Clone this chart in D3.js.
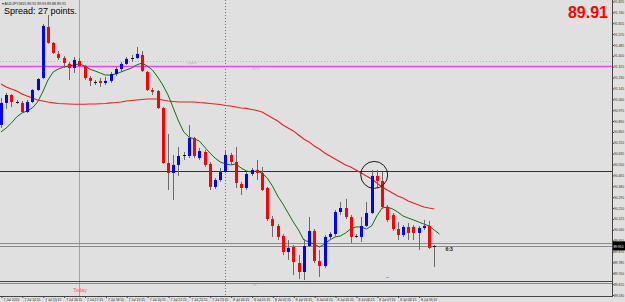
<!DOCTYPE html>
<html>
<head>
<meta charset="utf-8">
<script src="https://cdn.jsdelivr.net/npm/d3@7"></script>
<style>
  html, body { margin: 0; padding: 0; background: #e0e0e0; }
  svg { display: block; font-family: "Liberation Sans", Arial, sans-serif; }
</style>
</head>
<body>
<svg id="chart" width="625" height="302"></svg>
<script>
// AUDJPY M15
const symbol = 'AUDJPY,M15';
const headerQuote = [89.92, 89.93, 89.88, 89.91];
const spreadPoints = 27;
const bid = 89.910;
const ask = 89.937;
const openLevel = 91.360;
const pivotLevel = 91.321;
const supportLevel = 90.500;
const todayIndex = 15;
const daySeparatorIndex = 43;
const circled = {index: 71.5, price: 90.469};
const countdown = '6:3';

const timeLabels = ['7 Jul 2015', '7 Jul 14:15', '7 Jul 15:15', '7 Jul 16:15', '7 Jul 17:15', '7 Jul 18:15',
  '7 Jul 19:15', '7 Jul 20:15', '7 Jul 21:15', '7 Jul 22:15', '7 Jul 23:15', '8 Jul 00:15', '8 Jul 01:15',
  '8 Jul 02:15', '8 Jul 03:15', '8 Jul 04:15', '8 Jul 05:15', '8 Jul 06:15', '8 Jul 07:15', '8 Jul 08:15',
  '8 Jul 09:15'];

const priceTicks = [89.530, 89.615, 89.700, 89.785, 89.870, 89.955, 90.040, 90.125, 90.210, 90.295,
  90.380, 90.465, 90.550, 90.635, 90.720, 90.805, 90.890, 90.975, 91.060, 91.145,
  91.230, 91.315, 91.400, 91.485, 91.570, 91.655, 91.740, 91.825];

const opens = [
  90.860, 91.032, 91.094, 91.039, 91.032, 90.961, 91.039, 91.133, 91.227, 91.626,
  91.501, 91.415, 91.383, 91.337, 91.305, 91.360, 91.321, 91.227, 91.198, 91.204,
  91.188, 91.204, 91.258, 91.297, 91.337, 91.376, 91.383, 91.407, 91.274, 91.133,
  91.125, 90.992, 90.562, 90.484, 90.547, 90.622, 90.617, 90.758, 90.601, 90.648,
  90.555, 90.375, 90.429, 90.492, 90.625, 90.570, 90.398, 90.367, 90.476, 90.508,
  90.484, 90.367, 90.124, 90.070, 89.991, 89.866, 89.905, 89.780, 89.710, 89.913,
  90.031, 89.796, 89.757, 89.984, 90.007, 90.179, 90.210, 90.140, 89.993, 89.984,
  90.070, 90.171, 90.461, 90.422, 90.218, 90.156, 90.046, 89.999, 90.062, 90.062,
  90.015, 90.054, 90.070, 89.905];

const highs = [
  91.071, 91.110, 91.100, 91.055, 91.047, 91.055, 91.140, 91.226, 91.649, 91.720,
  91.508, 91.438, 91.399, 91.352, 91.391, 91.383, 91.329, 91.243, 91.211, 91.227,
  91.235, 91.274, 91.313, 91.352, 91.391, 91.407, 91.469, 91.438, 91.282, 91.149,
  91.133, 91.000, 90.789, 90.625, 90.687, 90.648, 90.859, 90.766, 90.680, 90.664,
  90.570, 90.445, 90.523, 90.664, 90.641, 90.687, 90.414, 90.492, 90.523, 90.586,
  90.531, 90.375, 90.148, 90.085, 90.007, 89.960, 89.921, 89.843, 89.968, 90.140,
  90.046, 89.882, 89.999, 90.023, 90.195, 90.257, 90.281, 90.156, 90.007, 90.140,
  90.257, 90.508, 90.508, 90.492, 90.234, 90.171, 90.101, 90.077, 90.093, 90.077,
  90.070, 90.117, 90.109, 89.921];

const lows = [
  90.836, 90.985, 91.000, 91.024, 90.953, 90.953, 91.030, 91.125, 91.219, 91.494,
  91.415, 91.368, 91.305, 91.211, 91.266, 91.313, 91.211, 91.164, 91.172, 91.157,
  91.172, 91.188, 91.243, 91.274, 91.329, 91.352, 91.376, 91.274, 91.125, 91.094,
  90.985, 90.555, 90.351, 90.273, 90.461, 90.586, 90.601, 90.601, 90.586, 90.531,
  90.351, 90.359, 90.414, 90.484, 90.547, 90.367, 90.312, 90.351, 90.461, 90.429,
  90.343, 90.109, 89.984, 89.960, 89.843, 89.804, 89.686, 89.655, 89.647, 89.905,
  89.780, 89.671, 89.741, 89.968, 89.991, 90.156, 90.124, 89.937, 89.976, 89.945,
  90.062, 90.164, 90.367, 90.203, 90.101, 90.031, 89.960, 89.984, 89.960, 89.960,
  89.882, 90.038, 89.890, 89.749];

const closes = [
  91.032, 91.094, 91.039, 91.037, 90.961, 91.039, 91.133, 91.219, 91.634, 91.501,
  91.423, 91.383, 91.344, 91.305, 91.368, 91.321, 91.227, 91.204, 91.196, 91.188,
  91.204, 91.258, 91.297, 91.337, 91.376, 91.383, 91.415, 91.282, 91.133, 91.118,
  90.992, 90.562, 90.484, 90.547, 90.617, 90.625, 90.758, 90.617, 90.656, 90.547,
  90.375, 90.429, 90.492, 90.625, 90.570, 90.406, 90.367, 90.476, 90.508, 90.484,
  90.351, 90.124, 90.070, 89.984, 89.866, 89.898, 89.788, 89.710, 89.913, 90.031,
  89.796, 89.757, 89.984, 90.007, 90.179, 90.210, 90.140, 89.984, 89.991, 90.070,
  90.171, 90.461, 90.422, 90.218, 90.117, 90.046, 89.999, 90.062, 90.015, 90.015,
  90.054, 90.070, 89.898, 89.910];

// slow moving average (red)
const maSlow = [
  91.180, 91.157, 91.141, 91.125, 91.102, 91.086, 91.071, 91.055, 91.047, 91.039,
  91.032, 91.028, 91.026, 91.024, 91.022, 91.022, 91.022, 91.024, 91.024, 91.026,
  91.028, 91.032, 91.035, 91.039, 91.047, 91.051, 91.055, 91.059, 91.063, 91.063,
  91.063, 91.055, 91.047, 91.043, 91.039, 91.039, 91.039, 91.039, 91.035, 91.032,
  91.028, 91.024, 91.020, 91.012, 91.008, 91.000, 90.992, 90.989, 90.981, 90.973,
  90.961, 90.938, 90.914, 90.891, 90.859, 90.836, 90.813, 90.781, 90.750, 90.727,
  90.695, 90.672, 90.641, 90.617, 90.594, 90.570, 90.547, 90.531, 90.508, 90.484,
  90.461, 90.437, 90.406, 90.375, 90.351, 90.328, 90.304, 90.289, 90.265, 90.250,
  90.234, 90.218, 90.210, 90.203];

// fast moving average (green), runs one bar past the last candle
const maFast = [
  90.805, 90.836, 90.875, 90.922, 90.953, 90.969, 90.992, 91.039, 91.118, 91.211,
  91.274, 91.297, 91.313, 91.321, 91.329, 91.337, 91.321, 91.297, 91.282, 91.266,
  91.250, 91.250, 91.258, 91.274, 91.290, 91.305, 91.329, 91.344, 91.321, 91.290,
  91.235, 91.172, 91.094, 90.992, 90.891, 90.805, 90.766, 90.750, 90.734, 90.687,
  90.641, 90.601, 90.570, 90.555, 90.547, 90.555, 90.523, 90.500, 90.492, 90.500,
  90.484, 90.445, 90.382, 90.304, 90.242, 90.171, 90.101, 90.038, 89.960, 89.945,
  89.929, 89.905, 89.929, 89.960, 89.984, 89.991, 90.015, 90.046, 90.062, 90.062,
  90.046, 90.070, 90.148, 90.210, 90.218, 90.203, 90.179, 90.148, 90.132, 90.117,
  90.101, 90.085, 90.070, 90.038, 90.007];

const width = 625;
const height = 302;
const plotRight = 612;
const mainBottom = 281;
const subBottom = 296;
const tinyFont = '"Liberation Sans", Arial, sans-serif';

const svg = d3.select('#chart');

const x = d3.scaleLinear().domain([0, 100]).range([1, 523]);
const y = d3.scaleLinear().domain([89.530, 91.825]).range([295, 1.5]);
const px = i => Math.round(x(i));

svg.append('rect')
  .attr('width', width).attr('height', height)
  .attr('fill', '#e0e0e0');

svg.append('defs').append('clipPath').attr('id', 'main')
  .append('rect').attr('width', plotRight).attr('height', mainBottom);

// vertical markers
svg.append('line')
  .attr('x1', px(todayIndex) + 0.5).attr('x2', px(todayIndex) + 0.5)
  .attr('y1', 0).attr('y2', subBottom)
  .attr('stroke', '#aca48f');

svg.append('line')
  .attr('x1', px(daySeparatorIndex) + 0.5).attr('x2', px(daySeparatorIndex) + 0.5)
  .attr('y1', 0).attr('y2', subBottom)
  .attr('stroke', '#6e6e6e').attr('stroke-dasharray', '1,2');

// horizontal levels
const hline = (price, color, dash, w) => svg.append('line')
  .attr('x1', 0).attr('x2', plotRight)
  .attr('y1', Math.round(y(price)) + 0.5).attr('y2', Math.round(y(price)) + 0.5)
  .attr('stroke', color).attr('stroke-width', w || 1)
  .attr('stroke-dasharray', dash);

hline(openLevel, '#8cc8c8', '1,2');
hline(pivotLevel, '#ff3cff', null, 1.5);
hline(supportLevel, '#303030', null);
hline(ask, '#8c8c8c', null);
hline(bid, '#8c8c8c', null);

svg.append('text').attr('x', 187).attr('y', y(openLevel) + 3)
  .attr('font-size', 4).attr('fill', '#b4b4b4').text('Open');
svg.append('text').attr('x', 252).attr('y', y(pivotLevel) + 4.5)
  .attr('font-size', 4).attr('fill', '#b4b4b4').text('BPV');

const plot = svg.append('g').attr('clip-path', 'url(#main)');

// moving averages
const maLine = d3.line().x((d, i) => x(i)).y(d => y(d));

plot.append('path').datum(maSlow)
  .attr('d', maLine)
  .attr('fill', 'none').attr('stroke', '#f01e1e').attr('stroke-width', 1.1);

plot.append('path').datum(maFast)
  .attr('d', maLine)
  .attr('fill', 'none').attr('stroke', '#0f700f').attr('stroke-width', 1);

// candles
const candles = opens.map((o, i) => ({i, o, h: highs[i], l: lows[i], c: closes[i]}));

const bar = plot.selectAll('g.candle').data(candles).join('g').attr('class', 'candle');

bar.append('line')
  .attr('x1', d => px(d.i) + 0.5).attr('x2', d => px(d.i) + 0.5)
  .attr('y1', d => y(d.h)).attr('y2', d => y(d.l))
  .attr('stroke', '#6a6a6a');

bar.append('rect')
  .attr('x', d => px(d.i) - 1)
  .attr('width', 3)
  .attr('y', d => Math.abs(y(d.o) - y(d.c)) < 1.2 ? Math.round(y(d.c)) : Math.min(y(d.o), y(d.c)))
  .attr('height', d => Math.max(1, Math.abs(y(d.o) - y(d.c))))
  .attr('fill', d => {
    if (Math.abs(y(d.o) - y(d.c)) < 1.2) return '#101010';
    return d.c > d.o ? '#0000ff' : '#ff0000';
  });

// annotations
svg.append('circle')
  .attr('cx', x(circled.index)).attr('cy', y(circled.price))
  .attr('r', 13.5)
  .attr('fill', 'none').attr('stroke', '#1a1a1a').attr('stroke-width', 1);

svg.append('text')
  .attr('x', x(candles.length) + 6).attr('y', y(bid) + 5)
  .attr('font-size', 5).attr('font-weight', 'bold').attr('fill', '#111')
  .text(countdown);

svg.append('rect')
  .attr('x', px(74) - 1).attr('y', Math.round(y(89.670)))
  .attr('width', 3).attr('height', 1).attr('fill', '#a0a0e8');

svg.append('text').attr('x', 253).attr('y', 286)
  .attr('font-size', 4).attr('fill', '#a8a8a8').text('III');

// sub window frame
svg.append('line').attr('x1', 0).attr('x2', plotRight).attr('y1', mainBottom + 0.5).attr('y2', mainBottom + 0.5)
  .attr('stroke', '#444');
svg.append('line').attr('x1', 0).attr('x2', plotRight).attr('y1', mainBottom + 2.5).attr('y2', mainBottom + 2.5)
  .attr('stroke', '#888');

// axes
const yAxis = d3.axisRight(y)
  .tickValues(priceTicks)
  .tickFormat(d3.format('.3f'))
  .tickSize(1.5).tickSizeOuter(0).tickPadding(0);

const gy = svg.append('g')
  .attr('class', 'axis')
  .attr('transform', `translate(${plotRight + 0.5},0)`)
  .call(yAxis);
gy.select('.domain').remove();
gy.selectAll('.tick text')
  .attr('font-size', 3.2)
  .attr('textLength', 10).attr('lengthAdjust', 'spacingAndGlyphs');

const xAxis = d3.axisBottom(x)
  .tickValues(timeLabels.map((d, i) => i * 4))
  .tickFormat((d, i) => timeLabels[i])
  .tickSize(2).tickSizeOuter(0).tickPadding(0);

const gx = svg.append('g')
  .attr('class', 'axis')
  .attr('transform', `translate(0.5,${subBottom})`)
  .call(xAxis);
gx.select('.domain').remove();
gx.selectAll('.tick text')
  .attr('font-size', 4)
  .attr('text-anchor', 'start').attr('x', 1.5)
  .attr('textLength', 16).attr('lengthAdjust', 'spacingAndGlyphs');

svg.selectAll('.axis .tick line').attr('stroke', '#444');
svg.selectAll('.axis .tick text')
  .attr('font-family', tinyFont)
  .attr('fill', '#2a2a2a');

svg.append('line').attr('x1', plotRight + 0.5).attr('x2', plotRight + 0.5).attr('y1', 0).attr('y2', subBottom)
  .attr('stroke', '#444');
svg.append('line').attr('x1', 0).attr('x2', plotRight + 1).attr('y1', subBottom + 0.5).attr('y2', subBottom + 0.5)
  .attr('stroke', '#444');

// current price box
svg.append('rect')
  .attr('x', plotRight + 1).attr('y', y(bid) - 5)
  .attr('width', width - plotRight - 1).attr('height', 9)
  .attr('fill', '#000');
svg.append('text')
  .attr('x', plotRight + 1.5).attr('y', y(bid) + 1.2)
  .attr('font-size', 3.2).attr('fill', '#fff')
  .attr('textLength', 10).attr('lengthAdjust', 'spacingAndGlyphs')
  .text(bid.toFixed(3));

// texts
svg.append('text')
  .attr('x', 2).attr('y', 4.5)
  .attr('font-size', 4).attr('fill', '#222')
  .attr('textLength', 64).attr('lengthAdjust', 'spacingAndGlyphs')
  .text('\u25BE ' + symbol + '  ' + headerQuote.map(d => d.toFixed(2)).join(' '));

svg.append('text')
  .attr('x', 4).attr('y', 14)
  .attr('font-size', 9).attr('fill', '#000')
  .text(`Spread: ${spreadPoints} points.`);

svg.append('text')
  .attr('x', 608).attr('y', 17.5)
  .attr('text-anchor', 'end')
  .attr('font-size', 16).attr('font-weight', 'bold').attr('fill', '#ff0000')
  .text(bid.toFixed(2));

svg.append('text')
  .attr('x', x(todayIndex) - 6).attr('y', 291.5)
  .attr('font-size', 5).attr('fill', '#ff5555')
  .text('Today');
</script>
</body>
</html>
